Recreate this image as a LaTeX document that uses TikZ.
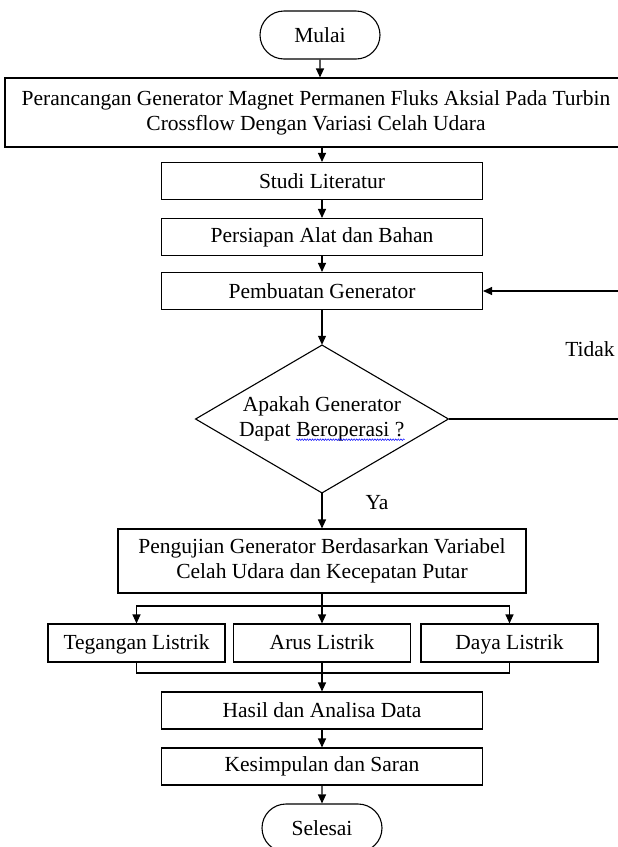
\documentclass[tikz,border=0pt]{standalone}
\usepackage{fontspec}
\setmainfont{Liberation Serif}
\usetikzlibrary{arrows.meta,shapes.geometric,shapes.misc,decorations.pathmorphing}

% blue spell-check squiggle under a word
\newcommand{\spellwave}[1]{\tikz[baseline=(w.base)]{%
    \node[shape=rectangle,draw=none,inner sep=0pt,minimum width=0pt,minimum height=0pt,text height=,text depth=] (w) {#1};
    \draw[blue,line width=0.5pt,decorate,decoration={snake,amplitude=0.8pt,segment length=2.6pt}]
        ([yshift=-3pt]w.base west) -- ([yshift=-3pt]w.base east);}}

\tikzset{
    stepbox/.style={rectangle,draw,align=center,inner sep=0pt,minimum width=321pt,minimum height=37pt},
    hasilbox/.style={rectangle,draw,inner sep=0pt,minimum width=177pt,minimum height=38pt,
                     text height=15pt,text depth=2pt},
    ujung/.style={rounded rectangle,draw,inner sep=0pt,minimum width=120pt,minimum height=48pt},
}

\begin{document}
\begin{tikzpicture}[x=1pt,y=-1pt,font=\fontsize{21.5}{25}\selectfont,line width=1.1pt,
                    >={Triangle[length=9pt,width=8pt]}]
\useasboundingbox (0,0) rectangle (618,847);
\clip (0,0) rectangle (618,847);
% start / end
\node[ujung] (mulai) at (320,35) {Mulai};
\node[ujung] (selesai) at (322,828) {Selesai};
% process boxes
\begin{scope}[every node/.style={stepbox}]
    \node[minimum width=622pt,minimum height=69pt] (rancang) at (316,112.5)
        {Perancangan Generator Magnet Permanen Fluks Aksial Pada Turbin\\Crossflow Dengan Variasi Celah Udara};
    \node (studi) at (322,181) {Studi Literatur};
    \node (siap) at (322,237) {Persiapan Alat dan Bahan};
    \node (buat) at (322,291) {Pembuatan Generator};
    \node[minimum width=408pt,minimum height=64pt] (uji) at (322,561)
        {Pengujian Generator Berdasarkan Variabel\\Celah Udara dan Kecepatan Putar};
    \node (hasil) at (322,710.5) {Hasil dan Analisa Data};
    \node (simpul) at (322,766.5) {Kesimpulan dan Saran};
\end{scope}
\begin{scope}[every node/.style={hasilbox}]
    \node (tegangan) at (136.5,643) {Tegangan Listrik};
    \node (arus) at (322,643) {Arus Listrik};
    \node (daya) at (509.5,643) {Daya Listrik};
\end{scope}
% decision
\node[diamond,draw,aspect=1.7,inner sep=0pt,minimum width=253pt,minimum height=148pt,align=center]
    (cek) at (322,419) {Apakah Generator\\Dapat \spellwave{Beroperasi ?}};
\node (tidak) at (590,349) {Tidak};
\node (ya) at (377,503) {Ya};
% helper points
\coordinate (pisah) at (322,606);
\coordinate (gabung) at (322,673);
\coordinate (balik1) at (640,419);
\coordinate (balik2) at (640,291);
% connectors
\path [->] (mulai) edge (mulai |- rancang.north)
           (studi |- rancang.south) edge (studi)
           (studi) edge (siap)
           (siap) edge (buat)
           (buat) edge (cek)
           (cek) edge (uji)
           (gabung) edge (hasil)
           (hasil) edge (simpul)
           (simpul) edge (selesai);
\draw (uji) -- (pisah);
\draw [->] (pisah) -| (tegangan);
\draw [->] (pisah) -- (arus);
\draw [->] (pisah) -| (daya);
\draw (tegangan) |- (gabung);
\draw (arus) -- (gabung);
\draw (daya) |- (gabung);
\draw [->] (cek.east) -- (balik1) -- (balik2) -- (buat);
\end{tikzpicture}
\end{document}
